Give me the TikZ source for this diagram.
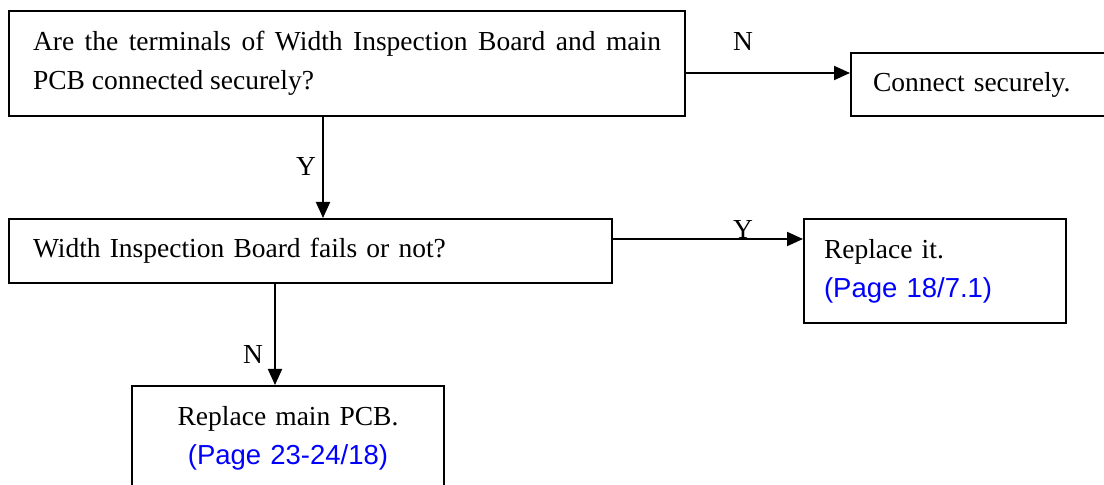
\documentclass[tikz,border=0pt]{standalone}
\usepackage{fontspec}
\setmainfont{Liberation Serif}
\setsansfont{Liberation Sans}
\usetikzlibrary{arrows.meta}
\definecolor{pageblue}{RGB}{0,0,255}
\newcommand{\pg}[1]{{\sffamily\color{pageblue}#1}}

\begin{document}
\begin{tikzpicture}
  [x=0.5pt,y=-0.5pt,
   box/.style={draw,line width=1pt,anchor=north west,inner ysep=0pt,
     font=\fontsize{13.75}{19.5}\selectfont},
   lbl/.style={inner sep=0pt,font=\fontsize{13.75}{16}\selectfont},
   arr/.style={line width=1pt,-{Triangle[length=8pt,width=7pt]}}]
  \useasboundingbox (0,0) rectangle (1104,485);

  \node[box,text width=314pt,inner xsep=12pt,minimum height=52.5pt,align=justify] (q1) at (8,10)
    {Are the terminals of Width Inspection Board and main\linebreak PCB connected securely?};
  \node[box,text width=120pt,inner xsep=11pt,minimum height=31.5pt,align=left] (a1) at (850,52)
    {Connect securely.};
  \node[box,text width=277.5pt,inner xsep=12pt,minimum height=32pt,align=left] (q2) at (8,218)
    {Width Inspection Board fails or not?};
  \node[box,text width=111pt,inner xsep=10pt,minimum height=52pt,align=left] (a2) at (803,218)
    {Replace it.\\ \pg{(Page 18/7.1)}};
  \node[box,text width=136pt,inner xsep=10pt,minimum height=52.5pt,align=center] (a3) at (131,385)
    {Replace main PCB.\\ \pg{(Page 23-24/18)}};

  \node[lbl] (n1) at (743,42) {N};
  \node[lbl] (y1) at (306,167) {Y};
  \node[lbl] (y2) at (743,230) {Y};
  \node[lbl] (n2) at (253,355) {N};

  \draw[arr] ([yshift=-31.5pt]q1.north east) -- ([yshift=-10.5pt]a1.north west);
  \draw[arr] ([xshift=157.5pt]q1.south west) -- ([xshift=157.5pt]q2.north west);
  \draw[arr] ([yshift=-10.5pt]q2.north east) -- ([yshift=-10.5pt]a2.north west);
  \draw[arr] ([xshift=133.5pt]q2.south west) -- ([xshift=72pt]a3.north west);

\end{tikzpicture}
\end{document}
